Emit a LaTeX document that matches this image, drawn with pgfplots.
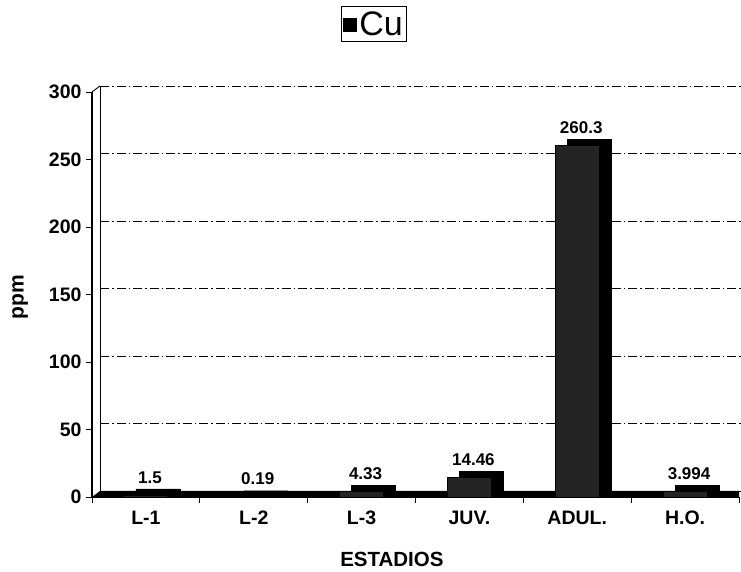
\documentclass[border=0pt]{standalone}
\usepackage{pgfplots}
\pgfplotsset{compat=1.18}
\usepackage{pgfplotstable}
\usepackage{fontspec}
\setmainfont{Liberation Sans}

% Cu concentration (ppm) per developmental stage
\pgfplotstableread{
x  val    lab
0  1.5    1.5
1  0.19   0.19
2  4.33   4.33
3  14.46  14.46
4  260.3  260.3
5  3.994  3.994
}\cutable

\begin{document}
\begin{tikzpicture}[x=1pt,y=1pt]
\useasboundingbox (0,0) rectangle (741,572);
\begin{axis}[
  at={(92pt,75pt)}, anchor=south west,
  scale only axis, width=647pt, height=405pt,
  xmin=-0.5, xmax=5.5, ymin=0, ymax=300,
  axis x line*=bottom, axis y line*=left,
  axis line style={black, line width=1.2pt},
  xtick={0,...,5},
  xticklabels={L-1,L-2,L-3,JUV.,ADUL.,H.O.},
  minor xtick={-0.5,0.5,...,5.5},
  major x tick style={draw=none},
  ytick={0,50,...,300},
  tick align=outside,
  major tick length=6pt, minor tick length=6pt,
  tick style={black, line width=0.9pt},
  /pgf/number format/assume math mode=true,
  ticklabel style={font=\bfseries\fontsize{19.5}{19.5}\selectfont},
  yticklabel style={xshift=-1pt},
  xticklabel style={text height=14pt, text depth=0pt, anchor=north, yshift=-4pt},
  ymajorgrids,
  major grid style={black, line width=0.9pt,
    dash pattern=on 9pt off 3pt on 1.5pt off 3pt, shift={(8pt,6pt)}},
  xlabel={ESTADIOS},
  xlabel style={font=\bfseries\fontsize{20.5}{20.5}\selectfont, inner sep=0pt,
    at={(axis description cs:0.4635,-0.155)}, anchor=center},
  ylabel={ppm},
  ylabel style={font=\bfseries\fontsize{21}{21}\selectfont,
    at={(axis description cs:-0.111,0.494)}, anchor=center},
  clip=false,
  legend style={at={(axis description cs:0.436,1.168)}, anchor=center,
    draw=black, line width=0.8pt, inner xsep=2pt, inner ysep=3pt,
    font=\fontsize{34}{34}\selectfont},
  legend image code/.code={\fill[black] (0pt,-7pt) rectangle (13pt,6pt);},
]
% back wall of the 3-D frame
\draw[black, line width=0.9pt] ([shift={(8pt,6pt)}]axis cs:-0.5,0) -- ([shift={(8pt,6pt)}]axis cs:-0.5,300);
\draw[black, line width=0.9pt] (axis cs:-0.5,300) -- ([shift={(8pt,6pt)}]axis cs:-0.5,300);
% floor slab
\fill[black] (axis cs:-0.5,0) -- ([shift={(8pt,6pt)}]axis cs:-0.5,0)
  -- ([shift={(0pt,6pt)}]axis cs:5.5,0) -- (axis cs:5.5,0) -- cycle;
% depth of the columns (side and top faces)
\addplot[ybar, bar width=44pt, bar shift=0pt, fill=black, draw=black,
  xshift=12pt, yshift=6pt, forget plot]
  table[x=x, y=val] {\cutable};
% front faces with value labels
\addplot[ybar, bar width=44pt, bar shift=0pt, fill=black!86, draw=black,
  line width=0.9pt,
  point meta=explicit symbolic,
  nodes near coords,
  every node near coord/.append style={font=\bfseries\fontsize{17}{17}\selectfont,
    anchor=south, xshift=4pt, yshift=8pt}]
  table[x=x, y=val, meta=lab] {\cutable};
\addlegendentry{Cu}
\end{axis}
\end{tikzpicture}
\end{document}
